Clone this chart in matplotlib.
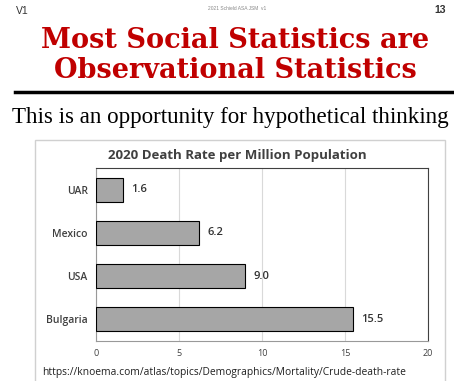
"""Slide: 2020 death rate bar chart."""

import matplotlib

matplotlib.use("Agg")

import matplotlib.pyplot as plt
from matplotlib.patches import Rectangle

countries = ["UAR", "Mexico", "USA", "Bulgaria"]
death_rates = [1.6, 6.2, 9.0, 15.5]
x_ticks = [0, 5, 10, 15, 20]

W, H = 454, 381


def fx(px):
    return px / W


def fy(py):
    return 1 - py / H


figure = plt.figure(figsize=(W / 100, H / 100), dpi=100)
figure.patch.set_facecolor("white")

# slide header
figure.text(fx(22), fy(11), "V1", fontsize=7.5, color="#333333",
            ha="center", va="center", family="Liberation Sans")
figure.text(fx(440), fy(10), "13", fontsize=7.5, color="#333333", weight="bold",
            ha="center", va="center", family="Liberation Sans")
figure.text(fx(237), fy(9), "2021 Schield ASA JSM  v1", fontsize=3.5,
            color="#888888", ha="center", va="center", family="Liberation Sans")

figure.text(fx(235), fy(40), "Most Social Statistics are", fontsize=19.5,
            color="#C00000", weight="bold", ha="center", va="center",
            family="DejaVu Serif")
figure.text(fx(235), fy(70), "Observational Statistics", fontsize=19.5,
            color="#C00000", weight="bold", ha="center", va="center",
            family="DejaVu Serif")
figure.add_artist(plt.Line2D([fx(15), fx(454)], [fy(92), fy(92)], color="black",
                             linewidth=2.5, transform=figure.transFigure))
figure.text(fx(230), fy(117), "This is an opportunity for hypothetical thinking",
            fontsize=16.6, color="black", ha="center", va="center",
            family="Liberation Serif")

# chart frame
figure.add_artist(Rectangle((fx(35), fy(385)), fx(410), fy(140) - fy(385),
                            transform=figure.transFigure, fill=False,
                            edgecolor="#D0D0D0", linewidth=1))
figure.text(fx(237), fy(155), "2020 Death Rate per Million Population",
            fontsize=9.5, weight="bold", color="#404040", ha="center",
            va="center", family="Open Sans")

axis = figure.add_axes([fx(96), fy(341), fx(428) - fx(96), fy(168) - fy(341)])
positions = list(range(len(countries)))
bars = axis.barh(positions, death_rates, height=0.55, color="#A6A6A6",
                 edgecolor="black", linewidth=0.8, zorder=3)
for bar, value in zip(bars, death_rates):
    axis.text(value + 0.5, bar.get_y() + bar.get_height() / 2, f"{value:.1f}",
              va="center", ha="left", fontsize=8, weight="semibold",
              color="#333333", family="Open Sans")

axis.set_xlim(0, 20)
axis.set_ylim(3.5, -0.5)
axis.set_xticks(x_ticks)
axis.set_yticks(positions)
axis.set_yticklabels(countries)
axis.xaxis.grid(True, color="#D9D9D9", linewidth=0.8, zorder=0)
axis.tick_params(length=0, labelsize=6.5, colors="#404040", pad=6)
for label in axis.get_yticklabels():
    label.set_fontweight("semibold")
    label.set_family("Open Sans")
    label.set_fontsize(7.5)
for label in axis.get_xticklabels():
    label.set_family("Open Sans")
axis.spines["left"].set_color("#999999")
axis.spines["bottom"].set_color("#999999")
axis.spines["top"].set_color("#404040")
axis.spines["right"].set_color("#404040")

figure.text(fx(42), fy(372),
            "https://knoema.com/atlas/topics/Demographics/Mortality/Crude-death-rate",
            fontsize=7.35, color="#202020", ha="left", va="center",
            family="Open Sans")

figure.savefig("out.png", dpi=100)
plt.close(figure)
